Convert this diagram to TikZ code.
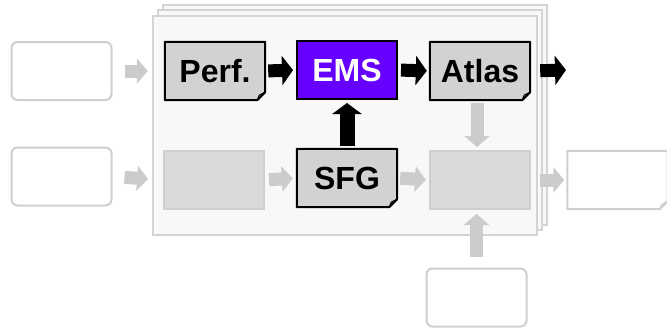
\documentclass[tikz,border=0pt]{standalone}
\usepackage{fontspec}
\setmainfont{Liberation Sans}
\usetikzlibrary{positioning,arrows.meta,backgrounds}
\definecolor{pagefill}{HTML}{F8F8F8}
\definecolor{pageline}{HTML}{D4D4D4}
\definecolor{notegray}{HTML}{D2D2D2}
\definecolor{fadegray}{HTML}{D9D9D9}
\definecolor{fadeline}{HTML}{CFCFCF}
\definecolor{arrowgray}{HTML}{CCCCCC}
\definecolor{emspurple}{HTML}{6600FF}
\tikzset{
blk/.style={minimum width=100pt, minimum height=58pt, inner sep=0pt, font=\fontsize{32}{32}\selectfont\bfseries},
note/.style={blk},
ems box/.style={blk, fill=emspurple, draw=black, line width=2pt, text=white},
faded/.style={blk, fill=fadegray, draw=fadeline, line width=2pt},
source/.style={blk, fill=white, draw=fadeline, line width=2pt, rounded corners=6pt},
page/.style={fill=pagefill, draw=pageline, line width=2pt},
fat/.style={line width=13pt, -{Triangle[width=29pt,length=11pt]}},
fat gray/.style={line width=13pt, color=arrowgray, -{Triangle[width=25pt,length=11pt]}}
}

\begin{document}
\begin{tikzpicture}[x=1pt, y=-1pt]
\useasboundingbox (0,0) rectangle (667,330);
% nodes
\node[note] (perf) at (215,71) {Perf.};
\node[ems box] (ems) at (347,70) {EMS};
\node[note] (atlas) at (480,71) {Atlas};
\node[faded] (lowleft) at (214,180) {};
\node[note] (sfg) at (347,178) {SFG};
\node[faded] (lowright) at (480,180) {};
\node[source] (src1) at (61.5,71) {};
\node[source] (src2) at (61.5,176.5) {};
\node[source] (srcb) at (476.5,297.5) {};
\node[note] (result) at (617.5,180) {};
\coordinate (atlasout) at (566,70);

\begin{pgfonlayer}{background}
% stack of pages
\draw[page] (163,5) rectangle (547,225);
\draw[page] (158,10) rectangle (542,230);
\draw[page] (153,16) rectangle (537,235);
% folded notes
\foreach \n/\f/\d in {perf/notegray/black, atlas/notegray/black, sfg/notegray/black, result/white/fadeline}{
  \filldraw[fill=\f, draw=\d, line width=2pt, line join=round] (\n.north west) -- (\n.north east) -- ([yshift=8pt]\n.south east) -- ([xshift=-8pt]\n.south east) -- (\n.south west) -- cycle;
  \draw[draw=\d, line width=1pt, line join=round] ([xshift=-8pt]\n.south east) -- ([xshift=-6pt,yshift=5pt]\n.south east) -- ([yshift=8pt]\n.south east);
}
\end{pgfonlayer}

% arrows
\draw[fat, shorten <=3pt, shorten >=3pt] (perf.east) -- (ems.west);
\draw[fat, shorten <=3pt, shorten >=3pt] (ems.east) -- (atlas.west);
\draw[fat, shorten <=10pt] (atlas.east) -- (atlasout);
\draw[fat, line width=15pt, shorten <=3pt, shorten >=3pt] (sfg.north) -- (ems.south);
\draw[fat gray, shorten <=12pt, shorten >=17pt] (src1.east) -- (perf.west);
\draw[fat gray, shorten <=12pt, shorten >=15pt] (src2.east) -- (lowleft.west);
\draw[fat gray, shorten <=4pt, shorten >=4pt] (lowleft.east) -- (sfg.west);
\draw[fat gray, shorten <=3pt, shorten >=3pt] (sfg.east) -- (lowright.west);
\draw[fat gray, shorten <=9pt, shorten >=3pt] (lowright.east) -- (result.west);
\draw[fat gray, shorten <=3pt, shorten >=3pt] ([xshift=-3pt]atlas.south) -- ([xshift=-3pt]lowright.north);
\draw[fat gray, shorten <=11pt, shorten >=4pt] (srcb.north) -- (srcb.north |- lowright.south);
\end{tikzpicture}
\end{document}
